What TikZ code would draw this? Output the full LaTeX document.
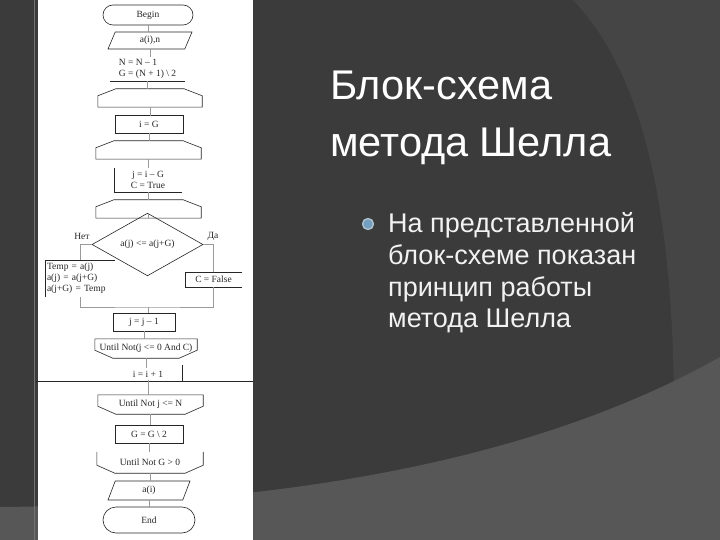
\documentclass[tikz,border=0pt]{standalone}
\usepackage{fontspec}
\setmainfont{Liberation Sans}
\newfontfamily\chartfont{Liberation Serif}
\usetikzlibrary{shapes.geometric,shapes.misc,calc,positioning}
\definecolor{slidebg}{HTML}{3B3B3B}
\definecolor{slidemid}{HTML}{454545}
\definecolor{slidelow}{HTML}{575757}
\definecolor{bulletblue}{HTML}{729FC2}
\definecolor{bulletring}{HTML}{B4C4D0}
\definecolor{linkgray}{HTML}{9A9A9A}

\begin{document}
\begin{tikzpicture}[x=1pt,y=-1pt,
    outline/.style={draw=black!85, line width=0.6pt},
    chart/.style={inner sep=0pt, font=\chartfont\fontsize{9.5}{11}\selectfont, text=black!85},
    term/.style={rounded rectangle, outline, chart, minimum width=90pt, minimum height=20pt},
    io/.style={trapezium, trapezium left angle=50, trapezium right angle=130, trapezium stretches body, outline, chart, minimum width=84pt, minimum height=17pt},
    box/.style={rectangle, chart, minimum width=68pt, minimum height=17pt},
    loopbox/.style={rectangle, chart, minimum width=105pt, minimum height=18pt},
    cond/.style={diamond, outline, chart, minimum width=111pt, minimum height=33pt},
    link/.style={draw=linkgray, line width=0.5pt},
    title/.style={anchor=base west, inner sep=0pt, text=white, font=\fontsize{41.5}{49}\selectfont},
    body/.style={anchor=base west, inner sep=0pt, text=white!95!black, font=\fontsize{27}{32}\selectfont}
]
\useasboundingbox (0,0) rectangle (720,540);

% slide background
\fill[slidebg] (0,0) rectangle (720,540);
\fill[slidemid] (573,0) .. controls (630,60) and (672,170) .. (674,400) -- (720,400) -- (720,0) -- cycle;
\fill[slidelow] (0,507) .. controls (250,505) and (520,470) .. (720,357) -- (720,540) -- (0,540) -- cycle;
\draw[draw=black!55!white, line width=0.8pt] (34,0) -- (34,540);
\fill[white] (38,0) rectangle (253,540);

% start and input
\node[term] (start) at (148,15) {Begin};
\node[io] (read) at (150,40.5) {a(i),n};
\node[chart, align=left, minimum width=75pt, minimum height=24pt] (init) at (147.5,69) {N = N – 1\\G = (N + 1) \textbackslash{} 2};
\draw[outline] (init.south west) -- (init.south east);

% outer loops
\node[loopbox, minimum width=104pt] (loopG) at (150,98) {};
\node[box] (setI) at (149,124.5) {i = G};
\node[loopbox] (loopI) at (148.5,150) {};
\node[box, minimum height=24pt, align=center] (setJ) at (148,180) {j = i – G\\C = True};
\node[loopbox] (loopJ) at (148.5,209) {};
\draw[outline] (setI.south west) rectangle (setI.north east);
\draw[outline] (setJ.north west) -- (setJ.south west) -- (setJ.south east);
\foreach \n in {loopG,loopI,loopJ}
  \draw[outline] (\n.south west) -- ($(\n.north west)+(0,7)$) -- ($(\n.north west)+(18,0)$)
    -- ($(\n.north east)+(-18,0)$) -- ($(\n.north east)+(0,7)$) -- (\n.south east) -- cycle;

% comparison and swap
\node[cond] (cmp) at (147.5,244.5) {a(j) <= a(j+G)};
\node[chart] (no) at (82,236) {Нет};
\node[chart] (yes) at (213,236) {Да};
\node[box, align=left, minimum width=70pt, minimum height=37pt, text width=66pt] (swap) at (80,278.5) {Temp = a(j)\\a(j) = a(j+G)\\a(j+G) = Temp};
\node[box, minimum width=57pt, minimum height=15pt] (setC) at (213.5,279.5) {C = False};
\coordinate (merge) at (148,307);
\draw[outline] (swap.south west) -- (swap.north west) -- (swap.north east);
\draw[outline] (setC.north east) -- (setC.north west) -- (setC.south west) -- (setC.south east);

% loop ends
\node[box, minimum width=62pt, minimum height=18pt] (stepJ) at (144,322) {j = j – 1};
\node[loopbox, minimum width=102pt, minimum height=19pt] (untilJ) at (146,348.5) {Until Not(j <= 0 And C)};
\node[chart, inner sep=2.5pt] (stepI) at (148,374) {i = i + 1};
\node[loopbox, minimum height=19pt] (untilI) at (150.5,404.5) {Until Not j <= N};
\node[box, minimum height=18pt] (halve) at (149,434) {G = G \textbackslash{} 2};
\node[loopbox, minimum width=106pt, minimum height=21pt] (untilG) at (150,462.5) {Until Not G > 0};
\draw[outline] (stepJ.south west) rectangle (stepJ.north east);
\draw[outline] (halve.south west) rectangle (halve.north east);
\foreach \n in {untilJ,untilI}
  \draw[outline] (\n.north west) -- ($(\n.south west)+(0,-8)$) -- ($(\n.south west)+(18,0)$)
    -- ($(\n.south east)+(-18,0)$) -- ($(\n.south east)+(0,-8)$) -- (\n.north east) -- cycle;
\draw[outline] (untilG.north west) -- ($(untilG.south west)+(0,-8)$) -- ($(untilG.south west)+(18,0)$)
  -- ($(untilG.south east)+(-18,0)$) -- ($(untilG.south east)+(0,-8)$) -- (untilG.north east);
\draw[outline] (36,381) -- (253,381);
\draw[outline] (182,365) -- (182,381);

% output and end
\node[io, minimum width=82pt, minimum height=19pt] (write) at (149,490.5) {a(i)};
\node[term, minimum width=92pt, minimum height=26pt] (stop) at (149,520) {End};

% connections
\foreach \a/\b in {start/read, read/init, init/loopG, loopG/setI, setI/loopI, loopI/setJ, setJ/loopJ, loopJ/cmp,
    stepJ/untilJ, untilJ/stepI, stepI/untilI, untilI/halve, halve/untilG, untilG/write, write/stop}
  \draw[link] (\a.south) -- (\a.south |- \b.north);
\draw[link] (cmp.west) -| (swap.north);
\draw[link] (cmp.east) -| (setC.north);
\draw[link] (swap.south) |- (merge) -| (setC.south);
\draw[link] (merge) -- (merge |- stepJ.north);

% slide text
\node[title] (title1) at (330,100) {Блок-схема};
\node[title] (title2) at (330,157) {метода Шелла};
\node[circle, fill=bulletblue, draw=bulletring, line width=1.3pt, minimum size=11pt, inner sep=0pt] (bullet) at (368,224) {};
\node[body] (line1) at (388,233) {На представленной};
\node[body] (line2) at (388,264.5) {блок-схеме показан};
\node[body] (line3) at (388,296) {принцип работы};
\node[body] (line4) at (388,327.5) {метода Шелла};
\end{tikzpicture}
\end{document}
